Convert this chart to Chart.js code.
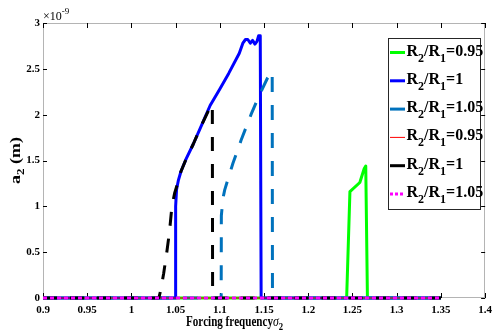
<!DOCTYPE html>
<html><head><meta charset="utf-8">
<script src="https://cdn.jsdelivr.net/npm/chart.js@4.4.0/dist/chart.umd.min.js"></script>
<style>html,body{margin:0;padding:0;background:#fff;}#wrap{width:498px;height:333px;}</style>
</head><body><div id="wrap"><canvas id="c" width="498" height="333"></canvas></div>
<script>
// ---- data (amplitudes in units of 1e-9 m) ----
const xTicks = [0.9, 0.95, 1, 1.05, 1.1, 1.15, 1.2, 1.25, 1.3, 1.35, 1.4];
const yTicks = [0, 0.5, 1, 1.5, 2, 2.5, 3];
const seriesLabels = ['R₂/R₁=0.95', 'R₂/R₁=1', 'R₂/R₁=1.05', 'R₂/R₁=0.95', 'R₂/R₁=1', 'R₂/R₁=1.05'];

const greenX = [0.9, 1.2434, 1.2471, 1.2583, 1.2632, 1.2650, 1.2669, 1.35];
const greenY = [0, 0, 1.16, 1.26, 1.41, 1.44, 0, 0];

const blueX = [0.9, 1.0495, 1.0500, 1.0510, 1.0530, 1.0560, 1.0620, 1.0700, 1.0800, 1.0890, 1.1000, 1.1100, 1.1220, 1.1260, 1.1290, 1.1316, 1.1345, 1.1370, 1.1397, 1.1420, 1.1438, 1.1457, 1.1467, 1.35];
const blueY = [0, 0, 1.00, 1.18, 1.28, 1.38, 1.52, 1.68, 1.90, 2.10, 2.28, 2.45, 2.67, 2.78, 2.82, 2.82, 2.78, 2.81, 2.77, 2.80, 2.86, 2.86, 0, 0];

const steelX = [0.9, 1.1015, 1.1017, 1.1036, 1.1055, 1.1148, 1.1240, 1.1352, 1.1450, 1.1539, 1.1580, 1.1592, 1.1595, 1.35];
const steelY = [0, 0, 0.90, 1.09, 1.18, 1.47, 1.72, 2.00, 2.22, 2.40, 2.46, 2.47, 0, 0];

const redX = [0.9, 1.35];
const redY = [0, 0];

const blackX = [0.9, 1.0310, 1.0330, 1.0365, 1.0400, 1.0430, 1.0458, 1.0490, 1.0532, 1.0560, 1.0620, 1.0700, 1.0800, 1.0895, 1.0915, 1.0918, 1.35];
const blackY = [0, 0, 0.08, 0.27, 0.50, 0.72, 1.00, 1.15, 1.28, 1.38, 1.52, 1.68, 1.90, 2.09, 2.11, 0, 0];

const magentaX = [0.9, 1.35];
const magentaY = [0, 0];

function pts(xs, ys) { return xs.map((x, i) => ({x: x, y: ys[i]})); }

const SERIF = '"Liberation Serif", "Times New Roman", serif';
const SUBS = {'₀':'0','₁':'1','₂':'2','₃':'3','₄':'4','₅':'5','₆':'6','₇':'7','₈':'8','₉':'9'};

function drawRich(ctx, str, x, y, font, subFont, subDy, specialFonts) {
  for (const ch of str) {
    if (SUBS[ch]) {
      ctx.font = subFont; ctx.fillText(SUBS[ch], x, y + subDy); x += ctx.measureText(SUBS[ch]).width;
    } else {
      ctx.font = (specialFonts && specialFonts[ch]) || font;
      ctx.fillText(ch, x, y); x += ctx.measureText(ch).width;
    }
  }
  return x;
}
function measureRich(ctx, str, font, subFont, specialFonts) {
  let w = 0;
  for (const ch of str) {
    if (SUBS[ch]) { ctx.font = subFont; w += ctx.measureText(SUBS[ch]).width; }
    else { ctx.font = (specialFonts && specialFonts[ch]) || font; w += ctx.measureText(ch).width; }
  }
  return w;
}

const framePlugin = {
  id: 'frame',
  beforeDatasetsDraw(chart) {
    const ctx = chart.ctx, a = chart.chartArea;
    const xs = chart.scales.x, ys = chart.scales.y;
    ctx.save();
    ctx.strokeStyle = '#b4b4b4'; ctx.lineWidth = 1;
    ctx.strokeRect(Math.round(a.left) + 0.5, Math.round(a.top) + 0.5, Math.round(a.right - a.left) - 1, Math.round(a.bottom - a.top) - 1);
    ctx.strokeStyle = '#000';
    ctx.beginPath();
    xTicks.forEach(v => {
      const px = Math.round(xs.getPixelForValue(v)) + 0.5;
      ctx.moveTo(px, a.bottom); ctx.lineTo(px, a.bottom - 5);
      ctx.moveTo(px, a.top); ctx.lineTo(px, a.top + 5);
    });
    yTicks.forEach(v => {
      const py = Math.round(ys.getPixelForValue(v)) + 0.5;
      ctx.moveTo(a.left, py); ctx.lineTo(a.left + 4, py);
      ctx.moveTo(a.right, py); ctx.lineTo(a.right - 4, py);
    });
    ctx.stroke();
    ctx.restore();
  },
  afterDraw(chart) {
    const ctx = chart.ctx, a = chart.chartArea;
    ctx.save();
    ctx.fillStyle = '#000';
    ctx.textBaseline = 'alphabetic';
    // exponent label
    ctx.font = '12px ' + SERIF;
    ctx.fillText('×10', a.left, 20);
    const w = ctx.measureText('×10').width;
    ctx.font = '9px ' + SERIF;
    ctx.fillText('-9', a.left + w, 14);

    // x title
    const xt = 'Forcing frequencyσ₂';
    const f1 = 'bold 14px ' + SERIF, fs = 'bold 11px ' + SERIF;
    const sp = {'σ': 'italic 15px ' + SERIF};
    ctx.save();
    ctx.translate(186, 326);
    ctx.scale(0.79, 1);
    drawRich(ctx, xt, 0, 0, f1, fs, 4, sp);
    ctx.restore();

    // y title
    const yt = 'a₂ (m)';
    const yf = 'bold 18px ' + SERIF, yfs = 'bold 13px ' + SERIF;
    const yl = measureRich(ctx, yt, yf, yfs);
    ctx.save();
    ctx.translate(20, (a.top + a.bottom) / 2 + yl / 2);
    ctx.rotate(-Math.PI / 2);
    ctx.scale(1, 0.78);
    drawRich(ctx, yt, 0, 0, yf, yfs, 5);
    ctx.restore();

    // legend
    const bx = 388.5, by = 38.5, bw = 92, bh = 171;
    ctx.fillStyle = '#fff';
    ctx.fillRect(bx, by, bw, bh);
    ctx.strokeStyle = '#262626'; ctx.lineWidth = 1;
    ctx.strokeRect(bx, by, bw, bh);
    chart.data.datasets.forEach((ds, i) => {
      const ly = 52.5 + i * 28.3;
      ctx.save();
      ctx.strokeStyle = ds.borderColor;
      ctx.lineWidth = ds.borderWidth;
      ctx.setLineDash(ds.legendDash || []);
      ctx.lineCap = 'butt';
      ctx.beginPath(); ctx.moveTo(390, ly); ctx.lineTo(405, ly); ctx.stroke();
      ctx.restore();
      ctx.fillStyle = '#000';
      drawRich(ctx, ds.label, 406.5, ly + 3, 'bold 16px ' + SERIF, 'bold 12px ' + SERIF, 6);
    });
    ctx.restore();
  }
};

const styles = [
  {color: '#00FF00', width: 3, dash: [], legendDash: [], order: 6},
  {color: '#0000FF', width: 3, dash: [], legendDash: [], order: 5},
  {color: '#0072BD', width: 3, dash: [15, 13], legendDash: [], order: 4},
  {color: '#FF0000', width: 1, dash: [], legendDash: [], order: 3},
  {color: '#000000', width: 3, dash: [14, 13], legendDash: [], order: 2},
  {color: '#FF00FF', width: 3, dash: [4, 3], legendDash: [3, 2], order: 1}
];
const seriesData = [pts(greenX, greenY), pts(blueX, blueY), pts(steelX, steelY), pts(redX, redY), pts(blackX, blackY), pts(magentaX, magentaY)];

const datasets = seriesData.map((d, i) => ({
  label: seriesLabels[i],
  data: d,
  showLine: true,
  clip: false,
  borderColor: styles[i].color,
  backgroundColor: styles[i].color,
  borderWidth: styles[i].width,
  borderDash: styles[i].dash,
  legendDash: styles[i].legendDash,
  borderCapStyle: 'butt',
  borderJoinStyle: 'round',
  pointRadius: 0,
  tension: 0,
  order: styles[i].order
}));

new Chart(document.getElementById('c'), {
  type: 'scatter',
  data: {datasets: datasets},
  options: {
    responsive: false,
    animation: false,
    layout: {padding: {top: 23, right: 8, left: 0, bottom: 0}},
    plugins: {legend: {display: false}, tooltip: {enabled: false}},
    scales: {
      x: {
        type: 'linear', min: 0.9, max: 1.4,
        grid: {display: false, drawTicks: false},
        border: {display: false},
        afterBuildTicks: s => { s.ticks = xTicks.map(v => ({value: v})); },
        afterFit: s => { s.height = 35; },
        ticks: {
          padding: 6, color: '#000', maxRotation: 0, autoSkip: false,
          font: {family: SERIF, size: 11, weight: 'bold'},
          callback: v => String(+Number(v).toFixed(2))
        }
      },
      y: {
        type: 'linear', min: 0, max: 3,
        grid: {display: false, drawTicks: false},
        border: {display: false},
        afterBuildTicks: s => { s.ticks = yTicks.map(v => ({value: v})); },
        afterFit: s => { s.width = 43; },
        ticks: {
          padding: 3, color: '#000', autoSkip: false,
          font: {family: SERIF, size: 11, weight: 'bold'},
          callback: v => String(+Number(v).toFixed(1))
        }
      }
    }
  },
  plugins: [framePlugin]
});
</script>
</body></html>
